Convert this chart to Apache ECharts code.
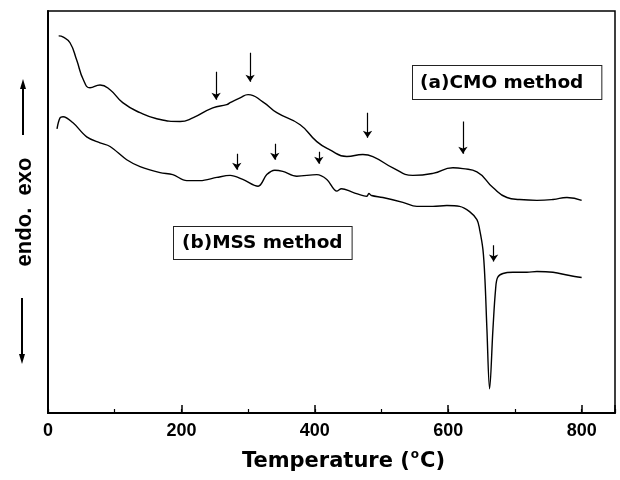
<!DOCTYPE html>
<html>
<head>
<meta charset="utf-8">
<script src="https://cdn.jsdelivr.net/npm/echarts@6/dist/echarts.min.js"></script>
<style>
html,body{margin:0;padding:0;background:#fff;}
#chart{width:620px;height:480px;}
</style>
</head>
<body>
<div id="chart"></div>
<script>
// (a) CMO method DTA trace: temperature (°C) and signal (a.u.)
const tempA = [16,23,33,43,53,63,78,93,112,138,163,198,217,247,268,273,288,300,322,343,378,403,422,448,472,487,517,547,577,607,622,643,667,688,707,733,757,778,800];
const heatA = [93.8,93.5,92.1,87.8,82.9,80.9,81.6,80.4,77.2,74.7,73.2,72.5,73.4,75.9,76.7,77.2,78.4,79.2,77.4,74.7,71.7,67.5,65.5,63.8,64.3,63.8,61.0,59.1,59.6,61.0,60.8,60.0,56.1,53.6,53.1,52.9,53.1,53.6,52.9];

// (b) MSS method DTA trace
const tempB = [13.5,18,22.5,37.5,58,78,93,118,138,168,187,208,228,253,273,292,315,328,340,352,373,403,418,433,440,457,478,481,485,502,532,553,577,598,617,632,643,647,652,655,658,662,667,671,674,682,697,718,733,757,782,800];
const heatB = [70.7,73.4,73.7,72.2,68.7,67.2,66.3,63.0,61.3,59.8,59.3,57.8,57.8,58.6,59.1,58.1,56.4,59.3,60.4,60.1,58.9,59.3,58.1,55.2,55.8,54.9,53.9,54.6,54.1,53.6,52.4,51.4,51.4,51.6,51.4,50.1,48.1,45.7,40.7,33.3,20.8,6.0,20.8,30.8,33.7,34.7,35.0,35.0,35.2,35.0,34.2,33.7];

// peak marker arrows: temperature, arrow tail and arrow tip (a.u.)
const arrowT   = [252,303,479,622,283,340,406,668];
const arrowTop = [84.9,89.6,74.7,72.5,64.5,67.0,65.0,41.7];
const arrowTip = [77.9,82.4,68.5,64.5,60.5,63.0,62.0,37.7];

const xTickMajor = [0,200,400,600,800];
const labelA = '(a)CMO method';
const labelB = '(b)MSS method';
const yName = 'endo.  exo';

const pairs = (xs, ys) => xs.map((x, i) => [x, ys[i]]);
const arrowData = arrowT.map((t, i) => ({ coords: [[t, arrowTop[i]], [t, arrowTip[i]]] }));

const chart = echarts.init(document.getElementById('chart'), null, { renderer: 'canvas' });
chart.setOption({
  animation: false,
  backgroundColor: '#fff',
  grid: { left: 48, right: 5, top: 11, bottom: 66, show: true, borderColor: '#000', borderWidth: 1.5, backgroundColor: 'transparent' },
  xAxis: [
    {
      type: 'value', min: 0, max: 850, interval: 200,
      axisLine: { show: true, lineStyle: { color: '#000', width: 2 } },
      axisTick: { show: true, inside: true, length: 8, lineStyle: { color: '#000', width: 1.5 } },
      axisLabel: {
        margin: 9, color: '#000', fontFamily: 'Liberation Sans', fontWeight: 'bold', fontSize: 18,
        formatter: v => (xTickMajor.indexOf(v) >= 0 ? String(v) : '')
      },
      splitLine: { show: false },
      name: 'Temperature ({sup|o}C)',
      nameLocation: 'middle',
      nameGap: 36,
      nameTextStyle: {
        color: '#000', fontFamily: 'DejaVu Sans', fontWeight: 'bold', fontSize: 21, lineHeight: 26,
        padding: [0, 0, 0, 24],
        rich: { sup: { fontFamily: 'DejaVu Sans', fontSize: 12, lineHeight: 12, verticalAlign: 'top', color: '#000', padding: [0, 1, 0, 1] } }
      }
    },
    {
      type: 'value', min: 0, max: 850, interval: 100, gridIndex: 0, position: 'bottom',
      axisLine: { show: false },
      axisTick: { show: true, inside: true, length: 4, lineStyle: { color: '#000', width: 1.2 } },
      axisLabel: { show: false },
      splitLine: { show: false }
    }
  ],
  yAxis: {
    type: 'value', min: 0, max: 100,
    axisLine: { show: true, lineStyle: { color: '#000', width: 2 } },
    axisTick: { show: false },
    axisLabel: { show: false },
    splitLine: { show: false }
  },
  series: [
    {
      type: 'line', name: 'CMO', xAxisIndex: 0, data: pairs(tempA, heatA),
      showSymbol: false, smooth: 0.5,
      lineStyle: { color: '#000', width: 1.4 }
    },
    {
      type: 'line', name: 'MSS', xAxisIndex: 0, data: pairs(tempB, heatB),
      showSymbol: false, smooth: 0.35,
      lineStyle: { color: '#000', width: 1.4 }
    },
    {
      type: 'lines', coordinateSystem: 'cartesian2d', xAxisIndex: 0,
      data: arrowData,
      symbol: ['none', 'arrow'], symbolSize: [1, 7],
      lineStyle: { color: '#000', width: 1.2, opacity: 1 }
    }
  ],
  graphic: [
    {
      type: 'text', x: 25, y: 212, rotation: Math.PI / 2,
      style: { text: yName, fill: '#000', font: 'bold 22px "Liberation Sans"', align: 'center', verticalAlign: 'middle' }
    },
    { type: 'line', shape: { x1: 23, y1: 135, x2: 23, y2: 86 }, style: { stroke: '#000', lineWidth: 2 } },
    { type: 'polygon', shape: { points: [[23, 79], [20, 89], [26, 89]] }, style: { fill: '#000' } },
    { type: 'line', shape: { x1: 22, y1: 298, x2: 22, y2: 356 }, style: { stroke: '#000', lineWidth: 2 } },
    { type: 'polygon', shape: { points: [[22, 364], [19, 354], [25, 354]] }, style: { fill: '#000' } },
    {
      type: 'text', x: 413, y: 66,
      style: {
        text: labelA, fill: '#000', font: 'bold 18.5px "DejaVu Sans"', lineHeight: 22,
        align: 'left', verticalAlign: 'top', padding: [6, 18, 5, 7],
        borderColor: '#222', borderWidth: 1, backgroundColor: '#fff'
      }
    },
    {
      type: 'text', x: 174, y: 227,
      style: {
        text: labelB, fill: '#000', font: 'bold 18.5px "DejaVu Sans"', lineHeight: 22,
        align: 'left', verticalAlign: 'top', padding: [5, 9, 5, 8],
        borderColor: '#222', borderWidth: 1, backgroundColor: '#fff'
      }
    }
  ]
});
</script>
</body>
</html>
